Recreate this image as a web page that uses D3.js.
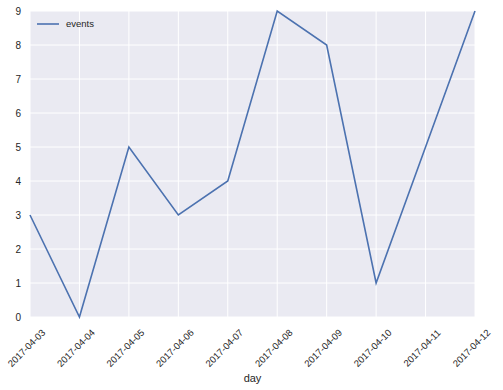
<!DOCTYPE html>
<html lang="en">
<head>
<meta charset="UTF-8">
<title>events per day</title>
<script src="https://d3js.org/d3.v7.min.js"></script>
<style>
  body { margin: 0; background: #fff; }
  text { font-family: "Liberation Sans", Arial, sans-serif; fill: #262626; }
</style>
</head>
<body>
<svg id="chart" width="503" height="390"></svg>
<script>
// data
var days = ["2017-04-03", "2017-04-04", "2017-04-05", "2017-04-06", "2017-04-07",
            "2017-04-08", "2017-04-09", "2017-04-10", "2017-04-11", "2017-04-12"];
var events = [3, 0, 5, 3, 4, 9, 8, 1, 5, 9];
var yTicks = [0, 1, 2, 3, 4, 5, 6, 7, 8, 9];

var svg = d3.select("#chart");
var margin = {left: 30, right: 28, top: 11, bottom: 73};
var width = 503 - margin.left - margin.right;
var height = 390 - margin.top - margin.bottom;

var x = d3.scalePoint().domain(days).range([0, width]);
var y = d3.scaleLinear().domain([0, 9]).range([height, 0]);

var g = svg.append("g")
    .attr("transform", "translate(" + margin.left + "," + margin.top + ")");

// background
g.append("rect")
    .attr("width", width)
    .attr("height", height)
    .attr("fill", "#EAEAF2");

// grid lines
g.append("g").selectAll("line")
    .data(yTicks)
    .enter().append("line")
    .attr("x1", 0).attr("x2", width)
    .attr("y1", function(d) { return y(d); })
    .attr("y2", function(d) { return y(d); })
    .attr("stroke", "#fff").attr("stroke-width", 1);

g.append("g").selectAll("line")
    .data(days)
    .enter().append("line")
    .attr("y1", 0).attr("y2", height)
    .attr("x1", function(d) { return x(d); })
    .attr("x2", function(d) { return x(d); })
    .attr("stroke", "#fff").attr("stroke-width", 1);

// y axis labels
var yAxis = g.append("g")
    .call(d3.axisLeft(y).tickValues(yTicks).tickSize(0).tickPadding(9));
yAxis.select(".domain").remove();
yAxis.selectAll("text").style("font-size", "10px").attr("fill", "#262626");

// x axis labels
var xAxis = g.append("g")
    .attr("transform", "translate(0," + height + ")")
    .call(d3.axisBottom(x).tickSize(0));
xAxis.select(".domain").remove();
xAxis.selectAll("text")
    .style("font-size", "9.5px")
    .attr("fill", "#262626")
    .attr("text-anchor", "middle")
    .attr("y", 0)
    .attr("dy", "0.35em")
    .attr("transform", "translate(-4,31) rotate(-45)");

// the line
var line = d3.line()
    .x(function(d, i) { return x(days[i]); })
    .y(function(d) { return y(d); });

g.append("path")
    .datum(events)
    .attr("fill", "none")
    .attr("stroke", "#4C72B0")
    .attr("stroke-width", 1.6)
    .attr("d", line);

// x axis title
svg.append("text")
    .attr("x", margin.left + width / 2)
    .attr("y", 382)
    .attr("text-anchor", "middle")
    .style("font-size", "11px")
    .text("day");

// legend
var legend = svg.append("g").attr("transform", "translate(37,24)");
legend.append("line")
    .attr("x1", 0).attr("x2", 22)
    .attr("y1", 0).attr("y2", 0)
    .attr("stroke", "#4C72B0").attr("stroke-width", 1.6);
legend.append("text")
    .attr("x", 29).attr("y", 0).attr("dy", "0.35em")
    .style("font-size", "9.5px")
    .text("events");
</script>
</body>
</html>
